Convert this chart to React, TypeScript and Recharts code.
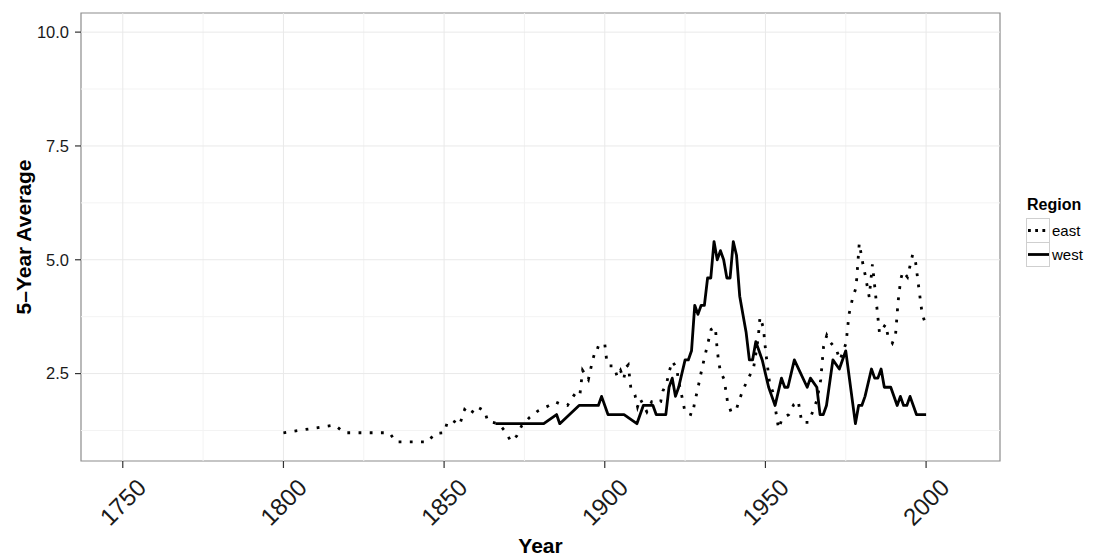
import React from 'react';
import { LineChart, Line, XAxis, YAxis, ReferenceLine, ReferenceArea } from 'recharts';

const FONT = '"Liberation Sans", Arial, Helvetica, sans-serif';

const xTicks = [1750, 1800, 1850, 1900, 1950, 2000];
const xMinor = [1775, 1825, 1875, 1925, 1975];
const yTicks = [2.5, 5.0, 7.5, 10.0];
const yMinor = [1.25, 3.75, 6.25, 8.75];
const xDomain = [1737, 2023];
const yDomain = [0.58, 10.42];

const eastYears = [
  1800, 1816, 1819, 1833, 1835, 1845, 1847, 1850, 1851, 1852.5, 1854.8, 1856.4, 1858.2, 1860, 1862.6, 1863.6,
  1867, 1869.1, 1870.8, 1872.6, 1874.1, 1876.5, 1879.2, 1882.2, 1884.6, 1885.9, 1888.4, 1890.2, 1891.4, 1892.3,
  1893.1, 1894.9, 1895.6, 1896.4, 1897.4, 1898.8, 1900, 1900.7, 1901.5, 1902.8, 1903.9, 1904.9, 1905.9, 1906.6,
  1907.3, 1908.1, 1909.4, 1910.2, 1911, 1913.1, 1914.6, 1916.2, 1917.4, 1918.1, 1919.3, 1920, 1921, 1922.4,
  1922.9, 1924.3, 1925, 1927.3, 1927.9, 1928.7, 1929.4, 1930.1, 1931, 1932.3, 1933.1, 1934.4, 1934.9, 1935.4,
  1936, 1937.1, 1937.7, 1938.2, 1939.3, 1940.9, 1941.9, 1943.2, 1944.7, 1946.3, 1947.3, 1947.8, 1948.3, 1949.4,
  1949.7, 1950.2, 1951.3, 1952.5, 1953.4, 1954.1, 1955.2, 1957.3, 1958.8, 1960.2, 1961.3, 1963.4, 1964.7, 1966,
  1967.2, 1968.1, 1969.1, 1970.2, 1972.1, 1973.2, 1975.1, 1976, 1977.1, 1978.2, 1978.7, 1979.2, 1980.3, 1981,
  1982.3, 1983.3, 1984.5, 1985.5, 1987.4, 1988.1, 1989.5, 1990.5, 1991.3, 1992.1, 1992.8, 1994.2, 1995.8, 1996.6,
  1997.9, 1998.8, 2000,
];
const eastValues = [
  1.2, 1.37, 1.2, 1.2, 1.0, 1.0, 1.18, 1.2, 1.43, 1.48, 1.37, 1.71, 1.6, 1.78, 1.68, 1.45,
  1.4, 1.22, 1.01, 1.13, 1.35, 1.53, 1.68, 1.78, 1.88, 1.84, 1.8, 2.0, 2.12, 2.06,
  2.57, 2.37, 2.6, 2.84, 3.08, 3.05, 3.15, 2.73, 2.67, 2.67, 2.43, 2.57, 2.38, 2.64,
  2.69, 2.19, 2.03, 1.77, 1.95, 1.66, 1.88, 1.84, 1.88, 2.12, 2.3, 2.53, 2.77, 2.62,
  2.36, 1.9, 1.64, 1.59, 1.84, 2.09, 2.32, 2.56, 2.84, 3.23, 3.47, 3.52, 3.1, 2.78,
  2.54, 2.38, 2.12, 1.88, 1.66, 1.7, 1.93, 2.17, 2.4, 2.62, 3.06, 3.32, 3.74, 3.5,
  3.25, 2.91, 2.29, 2.06, 1.59, 1.29, 1.51, 1.6, 1.82, 1.9, 1.43, 1.43, 1.66, 1.91,
  2.36, 3.1, 3.34, 3.19, 3.02, 2.8, 3.17, 3.8, 4.15, 4.39, 4.87, 5.36, 4.92, 4.68,
  4.18, 4.9, 4.08, 3.39, 3.58, 3.34, 3.17, 3.36, 4.09, 4.57, 4.74, 4.62, 5.11, 5.02,
  4.29, 3.8, 3.56,
];

const westYears = [
  1866, 1881, 1885, 1886, 1892, 1898, 1899, 1901, 1906, 1910, 1912, 1915, 1916, 1919, 1920, 1921, 1922, 1923,
  1925, 1926, 1927, 1928, 1929, 1930, 1931, 1932, 1933, 1934, 1935, 1936, 1937, 1938, 1939, 1940, 1941, 1942,
  1943, 1944, 1945, 1946, 1947, 1948, 1949, 1950, 1951, 1952, 1953, 1955, 1956, 1957, 1959, 1963, 1964, 1966,
  1967, 1968, 1969, 1971, 1972, 1973, 1975, 1978, 1979, 1980, 1981, 1983, 1984, 1985, 1986, 1987, 1989, 1991,
  1992, 1993, 1994, 1995, 1997, 2000,
];
const westValues = [
  1.4, 1.4, 1.6, 1.4, 1.8, 1.8, 2.0, 1.6, 1.6, 1.4, 1.8, 1.8, 1.6, 1.6, 2.2, 2.4, 2.0, 2.2,
  2.8, 2.8, 3.0, 4.0, 3.8, 4.0, 4.0, 4.6, 4.6, 5.4, 5.0, 5.2, 5.0, 4.6, 4.6, 5.4, 5.1, 4.2,
  3.8, 3.4, 2.8, 2.8, 3.2, 3.0, 2.8, 2.5, 2.2, 2.0, 1.8, 2.4, 2.2, 2.2, 2.8, 2.2, 2.4, 2.2,
  1.6, 1.6, 1.8, 2.8, 2.7, 2.6, 3.0, 1.4, 1.8, 1.8, 2.0, 2.6, 2.4, 2.4, 2.6, 2.2, 2.2, 1.8,
  2.0, 1.8, 1.8, 2.0, 1.6, 1.6,
];

const eastData = eastYears.map((y, i) => ({ year: y, value: eastValues[i] }));
const westData = westYears.map((y, i) => ({ year: y, value: westValues[i] }));

const XTick = (props: any) => {
  const { x, y, payload } = props;
  const cy = y + 32;
  return (
    <text
      x={x}
      y={cy}
      transform={`rotate(-45 ${x} ${cy})`}
      textAnchor="middle"
      dominantBaseline="central"
      fontSize={24}
      fontFamily={FONT}
      fill="#1a1a1a"
    >
      {payload.value}
    </text>
  );
};

const YTitle = (props: any) => {
  const vb = props.viewBox || { x: 0, y: 13, width: 81, height: 448 };
  const cx = 23;
  const cy = vb.y + vb.height / 2;
  return (
    <text
      x={cx}
      y={cy}
      transform={`rotate(-90 ${cx} ${cy})`}
      textAnchor="middle"
      dominantBaseline="central"
      fontSize={21}
      fontWeight="bold"
      fontFamily={FONT}
      fill="#000"
    >
      5–Year Average
    </text>
  );
};

const XTitle = (props: any) => {
  const vb = props.viewBox || { x: 81, y: 461, width: 919, height: 98 };
  const cx = vb.x + vb.width / 2;
  return (
    <text x={cx} y={553} textAnchor="middle" fontSize={21} fontWeight="bold" fontFamily={FONT} fill="#000">
      Year
    </text>
  );
};

export default function App() {
  return (
    <div style={{ position: 'absolute', left: 0, top: 0, width: 1097, height: 559, background: '#fff' }}>
      <LineChart width={1097} height={559} margin={{ top: 13, right: 97, bottom: 0, left: 0 }}>
        {xMinor.map((v) => (
          <ReferenceLine key={'xm' + v} x={v} stroke="#f3f3f3" strokeWidth={1} />
        ))}
        {yMinor.map((v) => (
          <ReferenceLine key={'ym' + v} y={v} stroke="#f3f3f3" strokeWidth={1} />
        ))}
        {xTicks.map((v) => (
          <ReferenceLine key={'xM' + v} x={v} stroke="#e9e9e9" strokeWidth={1} />
        ))}
        {yTicks.map((v) => (
          <ReferenceLine key={'yM' + v} y={v} stroke="#e9e9e9" strokeWidth={1} />
        ))}
        <XAxis
          type="number"
          dataKey="year"
          domain={xDomain}
          ticks={xTicks}
          allowDataOverflow
          height={98}
          axisLine={false}
          tickLine={{ stroke: '#333', strokeWidth: 1.2 }}
          tickSize={7}
          tickMargin={2}
          tick={<XTick />}
          label={XTitle}
        />
        <YAxis
          type="number"
          domain={yDomain}
          ticks={yTicks}
          allowDataOverflow
          width={81}
          axisLine={false}
          tickLine={{ stroke: '#333', strokeWidth: 1.2 }}
          tickSize={6}
          tickMargin={6}
          tickFormatter={(v: number) => v.toFixed(1)}
          tick={{ fontSize: 16.5, fill: '#1a1a1a', fontFamily: FONT }}
          label={YTitle}
        />
        <Line
          data={eastData}
          dataKey="value"
          type="linear"
          stroke="#000"
          strokeWidth={2.8}
          strokeDasharray="2.8 8.4"
          dot={false}
          activeDot={false}
          isAnimationActive={false}
        />
        <Line
          data={westData}
          dataKey="value"
          type="linear"
          stroke="#000"
          strokeWidth={2.8}
          strokeLinejoin="round"
          dot={false}
          activeDot={false}
          isAnimationActive={false}
        />
        <ReferenceArea
          x1={xDomain[0]}
          x2={xDomain[1]}
          y1={yDomain[0]}
          y2={yDomain[1]}
          fill="none"
          stroke="#8c8c8c"
          strokeWidth={1.2}
          ifOverflow="visible"
        />
      </LineChart>
      <svg
        width={77}
        height={84}
        style={{ position: 'absolute', left: 1020, top: 190 }}
        fontFamily={FONT}
      >
        <text x={7} y={20} fontSize={16} fontWeight="bold" fill="#000">Region</text>
        <rect x={6.5} y={28.5} width={23} height={24} fill="#fff" stroke="#cfcfcf" />
        <line x1={8} y1={40.5} x2={29} y2={40.5} stroke="#000" strokeWidth={2.8} strokeDasharray="2.8 4.4" />
        <text x={32} y={46} fontSize={15} fill="#000">east</text>
        <rect x={6.5} y={52.5} width={23} height={24} fill="#fff" stroke="#cfcfcf" />
        <line x1={8} y1={64.5} x2={29} y2={64.5} stroke="#000" strokeWidth={2.8} />
        <text x={32} y={70} fontSize={15} fill="#000">west</text>
      </svg>
    </div>
  );
}
